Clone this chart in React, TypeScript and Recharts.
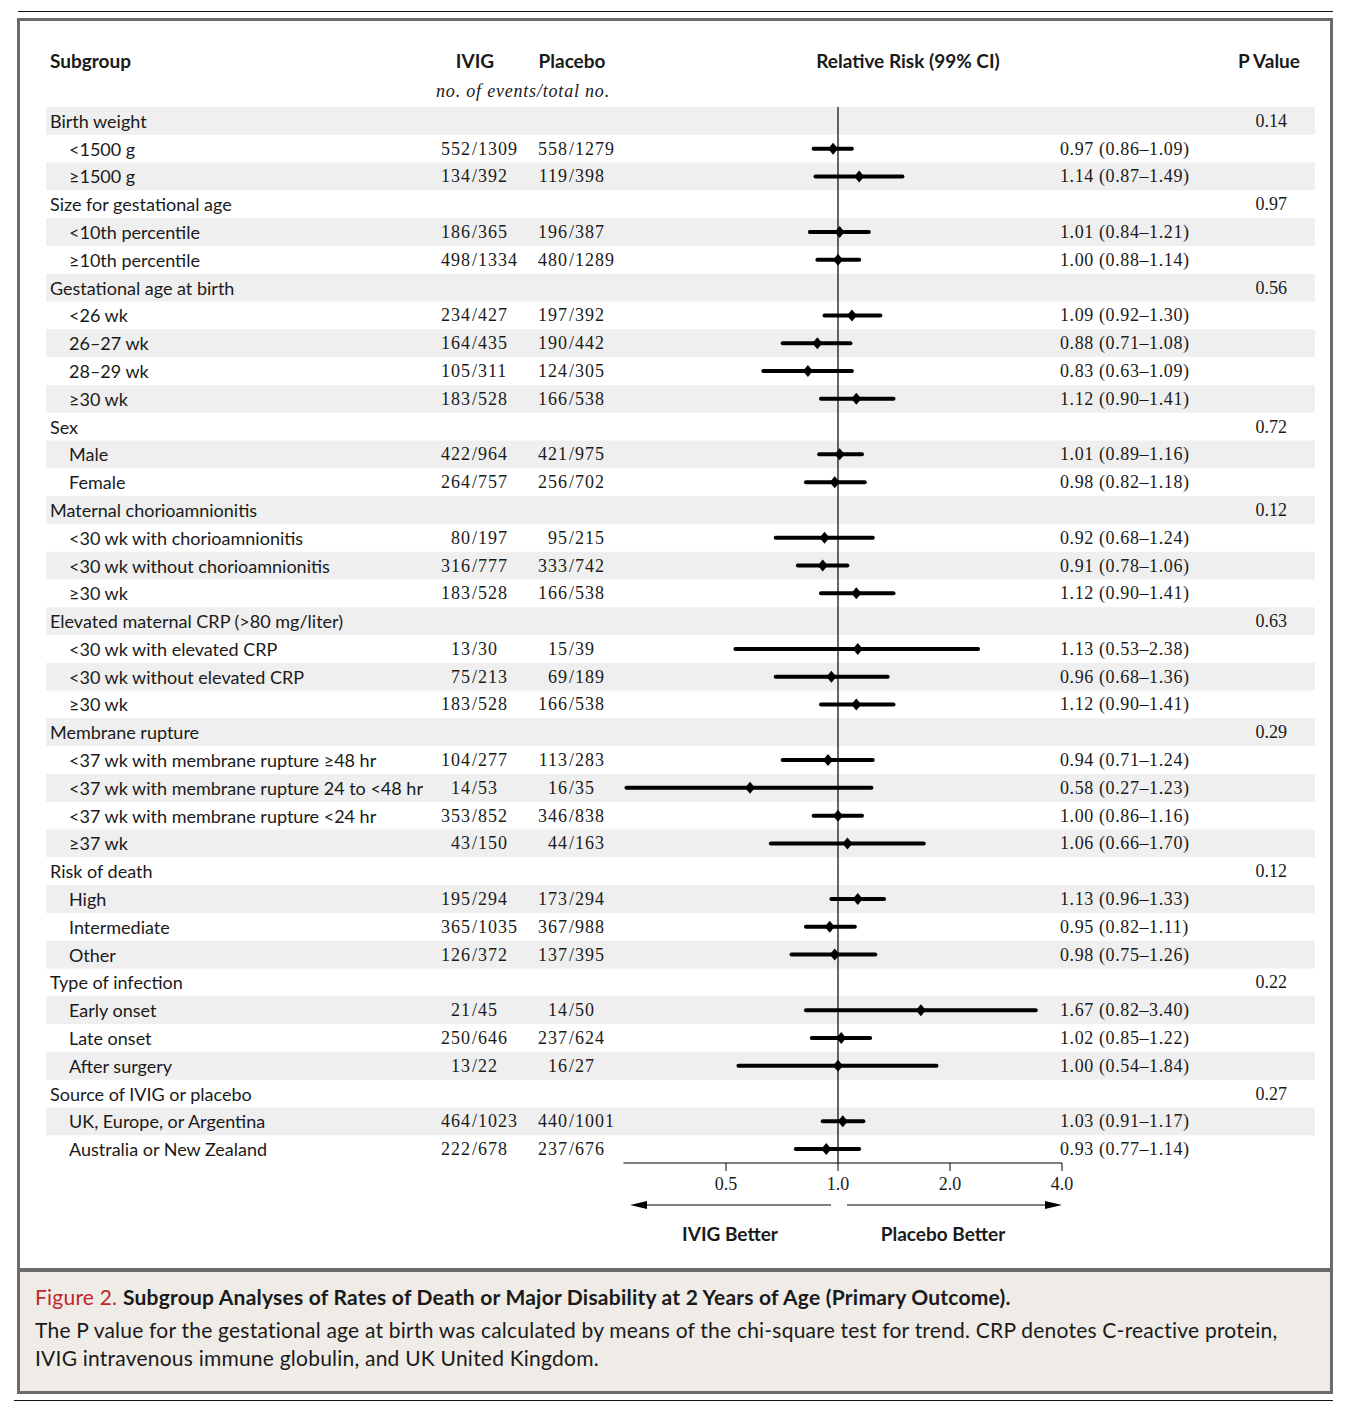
import React from 'react';
import {
    ComposedChart,
    Scatter,
    XAxis,
    YAxis,
    ReferenceLine,
    ReferenceArea
} from 'recharts';

// row labels, top to bottom
const subgroups = [
    'Birth weight', '<1500 g', '≥1500 g',
    'Size for gestational age', '<10th percentile', '≥10th percentile',
    'Gestational age at birth', '<26 wk', '26–27 wk', '28–29 wk', '≥30 wk',
    'Sex', 'Male', 'Female',
    'Maternal chorioamnionitis', '<30 wk with chorioamnionitis', '<30 wk without chorioamnionitis', '≥30 wk',
    'Elevated maternal CRP (>80 mg/liter)', '<30 wk with elevated CRP', '<30 wk without elevated CRP', '≥30 wk',
    'Membrane rupture', '<37 wk with membrane rupture ≥48 hr', '<37 wk with membrane rupture 24 to <48 hr',
    '<37 wk with membrane rupture <24 hr', '≥37 wk',
    'Risk of death', 'High', 'Intermediate', 'Other',
    'Type of infection', 'Early onset', 'Late onset', 'After surgery',
    'Source of IVIG or placebo', 'UK, Europe, or Argentina', 'Australia or New Zealand'
];

const ivigEvents = [
    '', '552/1309', '134/392',
    '', '186/365', '498/1334',
    '', '234/427', '164/435', '105/311', '183/528',
    '', '422/964', '264/757',
    '', '80/197', '316/777', '183/528',
    '', '13/30', '75/213', '183/528',
    '', '104/277', '14/53', '353/852', '43/150',
    '', '195/294', '365/1035', '126/372',
    '', '21/45', '250/646', '13/22',
    '', '464/1023', '222/678'
];

const placeboEvents = [
    '', '558/1279', '119/398',
    '', '196/387', '480/1289',
    '', '197/392', '190/442', '124/305', '166/538',
    '', '421/975', '256/702',
    '', '95/215', '333/742', '166/538',
    '', '15/39', '69/189', '166/538',
    '', '113/283', '16/35', '346/838', '44/163',
    '', '173/294', '367/988', '137/395',
    '', '14/50', '237/624', '16/27',
    '', '440/1001', '237/676'
];

const relativeRisk = [
    null, 0.97, 1.14,
    null, 1.01, 1.00,
    null, 1.09, 0.88, 0.83, 1.12,
    null, 1.01, 0.98,
    null, 0.92, 0.91, 1.12,
    null, 1.13, 0.96, 1.12,
    null, 0.94, 0.58, 1.00, 1.06,
    null, 1.13, 0.95, 0.98,
    null, 1.67, 1.02, 1.00,
    null, 1.03, 0.93
];

const ciLower = [
    null, 0.86, 0.87,
    null, 0.84, 0.88,
    null, 0.92, 0.71, 0.63, 0.90,
    null, 0.89, 0.82,
    null, 0.68, 0.78, 0.90,
    null, 0.53, 0.68, 0.90,
    null, 0.71, 0.27, 0.86, 0.66,
    null, 0.96, 0.82, 0.75,
    null, 0.82, 0.85, 0.54,
    null, 0.91, 0.77
];

const ciUpper = [
    null, 1.09, 1.49,
    null, 1.21, 1.14,
    null, 1.30, 1.08, 1.09, 1.41,
    null, 1.16, 1.18,
    null, 1.24, 1.06, 1.41,
    null, 2.38, 1.36, 1.41,
    null, 1.24, 1.23, 1.16, 1.70,
    null, 1.33, 1.11, 1.26,
    null, 3.40, 1.22, 1.84,
    null, 1.17, 1.14
];

const pValues = [
    '0.14', '', '',
    '0.97', '', '',
    '0.56', '', '', '', '',
    '0.72', '', '',
    '0.12', '', '', '',
    '0.63', '', '', '',
    '0.29', '', '', '', '',
    '0.12', '', '', '',
    '0.22', '', '', '',
    '0.27', '', ''
];

const xTicks = [0.5, 1, 2, 4];
const axisRange = [0.265, 4];

// layout of the plot (log2 scale: 1.0 at ONE_X, PX_PER_DOUBLING per doubling)
const CHART_W = 1345;
const CHART_H = 1265;
const PLOT_TOP = 107;
const PLOT_H = 1056;
const PLOT_LEFT = 46;
const PLOT_RIGHT = 1315;
const ONE_X = 838;
const PX_PER_DOUBLING = 112;
const X_MIN = Math.pow(2, (PLOT_LEFT - ONE_X) / PX_PER_DOUBLING);
const X_MAX = Math.pow(2, (PLOT_RIGHT - ONE_X) / PX_PER_DOUBLING);

const SANS = 'Lato, "Open Sans", sans-serif';
const SERIF = '"Liberation Serif", "DejaVu Serif", serif';
const INK = '#1a1a1a';
const STRIPE = '#efefef';

const rows = subgroups.map((_, i) => i);
const points = rows
    .filter(i => relativeRisk[i] != null)
    .map(i => ({ row: i, rr: relativeRisk[i] as number, lo: ciLower[i] as number, hi: ciUpper[i] as number }));

const Diamond = ({ cx, cy }: any) => {
    if (cx == null || cy == null) return null;
    const w = 5, h = 6;
    return <polygon points={`${cx},${cy - h} ${cx + w},${cy} ${cx},${cy + h} ${cx - w},${cy}`} fill="#000" />;
};

const Counts = ({ value, slashX, y }: { value: string; slashX: number; y: number }) => {
    if (!value) return null;
    const [num, den] = value.split('/');
    const common = { y, dominantBaseline: 'central' as const, fontFamily: SERIF, fontSize: 18, fill: INK, letterSpacing: 1 };
    return (
        <>
            <text {...common} x={slashX} textAnchor="end">{num}</text>
            <text {...common} x={slashX + 1}>/{den}</text>
        </>
    );
};

const RowTick = ({ y, payload }: any) => {
    const i = payload.value as number;
    const rr = relativeRisk[i];
    const group = rr == null;
    return (
        <g>
            <text x={group ? 50 : 69} y={y} dominantBaseline="central" fontFamily={SANS} fontSize={18} fill={INK}>
                {subgroups[i]}
            </text>
            <Counts value={ivigEvents[i]} slashX={471} y={y} />
            <Counts value={placeboEvents[i]} slashX={568} y={y} />
            {!group && (
                <text x={1060} y={y} dominantBaseline="central" fontFamily={SERIF} fontSize={18} fill={INK} letterSpacing={0.6}>
                    {`${rr!.toFixed(2)} (${ciLower[i]!.toFixed(2)}–${ciUpper[i]!.toFixed(2)})`}
                </text>
            )}
            {pValues[i] && (
                <text x={1287} y={y} dominantBaseline="central" textAnchor="end" fontFamily={SERIF} fontSize={18} fill={INK}>
                    {pValues[i]}
                </text>
            )}
        </g>
    );
};

const AxisTick = ({ x, y, payload }: any) => {
    const v = payload.value as number;
    return (
        <g>
            <line x1={x} x2={x} y1={y} y2={y + 8} stroke="#000" strokeWidth={1} />
            <text x={x} y={y + 21} textAnchor="middle" dominantBaseline="central" fontFamily={SERIF} fontSize={18} fill={INK}>
                {v.toFixed(1)}
            </text>
            {v === 1 && (
                <g>
                    <line x1={x - 7} x2={x - 192} y1={y + 42} y2={y + 42} stroke="#000" strokeWidth={1.2} />
                    <polygon points={`${x - 208},${y + 42} ${x - 191},${y + 38} ${x - 191},${y + 46}`} fill="#000" />
                    <line x1={x + 9} x2={x + 209} y1={y + 42} y2={y + 42} stroke="#000" strokeWidth={1.2} />
                    <polygon points={`${x + 224},${y + 42} ${x + 207},${y + 38} ${x + 207},${y + 46}`} fill="#000" />
                    <text x={x - 108} y={y + 70} textAnchor="middle" dominantBaseline="central" fontFamily={SANS} fontWeight={700} fontSize={19} fill={INK}>
                        IVIG Better
                    </text>
                    <text x={x + 105} y={y + 70} textAnchor="middle" dominantBaseline="central" fontFamily={SANS} fontWeight={700} fontSize={19} fill={INK}>
                        Placebo Better
                    </text>
                </g>
            )}
        </g>
    );
};

const abs = (left: number, top: number, extra: React.CSSProperties = {}): React.CSSProperties => ({
    position: 'absolute',
    left,
    top,
    whiteSpace: 'nowrap',
    ...extra
});

const header: React.CSSProperties = { fontFamily: SANS, fontWeight: 700, fontSize: 19, color: INK, lineHeight: 1 };
const caption: React.CSSProperties = { fontFamily: SANS, fontSize: 21, color: INK, lineHeight: 1, letterSpacing: 0.22, transform: 'translateY(-50%)' };

const App: React.FC = () => {
    return (
        <div style={{ position: 'absolute', left: 0, top: 0, width: 1345, height: 1417, background: '#fff' }}>
            {/* rules and frame */}
            <div style={abs(18, 11, { width: 1315, height: 1, background: '#111' })} />
            <div style={abs(17, 18, { width: 1316, height: 1376, border: '3px solid #6b6b6b', boxSizing: 'border-box' })} />
            <div style={abs(20, 1268, { width: 1310, height: 123, background: '#efebe6', borderTop: '4px solid #6b6b6b', boxSizing: 'border-box' })} />
            <div style={abs(14, 1400, { width: 1319, height: 1, background: '#111' })} />

            {/* column headers */}
            <div style={abs(50, 60, { ...header, transform: 'translateY(-50%)' })}>Subgroup</div>
            <div style={abs(475, 60, { ...header, transform: 'translate(-50%, -50%)' })}>IVIG</div>
            <div style={abs(572, 60, { ...header, transform: 'translate(-50%, -50%)' })}>Placebo</div>
            <div style={abs(908, 60, { ...header, transform: 'translate(-50%, -50%)' })}>Relative Risk (99% CI)</div>
            <div style={abs(1300, 60, { ...header, transform: 'translate(-100%, -50%)' })}>P Value</div>
            <div style={abs(523, 91, { fontFamily: SERIF, fontStyle: 'italic', fontSize: 18, letterSpacing: 0.8, color: INK, lineHeight: 1, transform: 'translate(-50%, -50%)' })}>
                no. of events/total no.
            </div>

            <div style={abs(0, 0)}>
                <ComposedChart
                    width={CHART_W}
                    height={CHART_H}
                    margin={{ top: PLOT_TOP, right: CHART_W - PLOT_RIGHT, left: 0, bottom: 0 }}
                >
                    {rows.filter(i => i % 2 === 0).map(i => (
                        <ReferenceArea
                            key={`stripe-${i}`}
                            y1={i - 0.5}
                            y2={i + 0.5}
                            fill={STRIPE}
                            fillOpacity={1}
                            stroke="none"
                        />
                    ))}
                    <ReferenceLine x={1} stroke="#000" strokeWidth={1.2} />
                    <ReferenceLine
                        segment={[{ x: axisRange[0], y: subgroups.length - 0.5 }, { x: axisRange[1], y: subgroups.length - 0.5 }]}
                        stroke="#000"
                        strokeWidth={1.2}
                    />
                    {/* 99% confidence intervals */}
                    {points.map(p => (
                        <ReferenceLine
                            key={`ci-${p.row}`}
                            segment={[{ x: p.lo, y: p.row }, { x: p.hi, y: p.row }]}
                            stroke="#000"
                            strokeWidth={4}
                            strokeLinecap="round"
                        />
                    ))}
                    <XAxis
                        type="number"
                        dataKey="rr"
                        scale="log"
                        domain={[X_MIN, X_MAX]}
                        allowDataOverflow
                        ticks={xTicks}
                        interval={0}
                        axisLine={false}
                        tickLine={false}
                        tickSize={0}
                        tickMargin={0}
                        height={CHART_H - PLOT_TOP - PLOT_H}
                        tick={<AxisTick />}
                    />
                    <YAxis
                        type="number"
                        dataKey="row"
                        domain={[-0.5, subgroups.length - 0.5]}
                        allowDataOverflow
                        reversed
                        ticks={rows}
                        interval={0}
                        width={PLOT_LEFT}
                        axisLine={false}
                        tickLine={false}
                        tick={<RowTick />}
                    />
                    <Scatter data={points} shape={<Diamond />} isAnimationActive={false} />
                </ComposedChart>
            </div>

            {/* caption */}
            <div style={abs(35, 1296, caption)}>
                <span style={{ color: '#c0272d' }}>Figure 2.</span>{' '}
                <span style={{ fontWeight: 700 }}>Subgroup Analyses of Rates of Death or Major Disability at 2 Years of Age (Primary Outcome).</span>
            </div>
            <div style={abs(35, 1329, caption)}>
                The P value for the gestational age at birth was calculated by means of the chi-square test for trend. CRP denotes C-reactive protein,
            </div>
            <div style={abs(35, 1357, caption)}>
                IVIG intravenous immune globulin, and UK United Kingdom.
            </div>
        </div>
    );
};

export default App;
